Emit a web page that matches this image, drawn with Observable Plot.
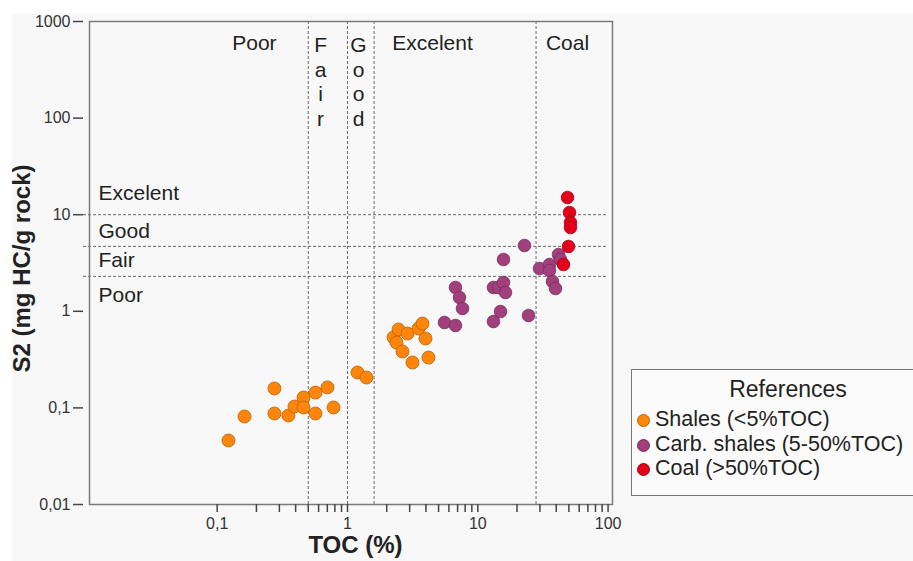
<!DOCTYPE html>
<html>
<head>
<meta charset="utf-8">
<script src="https://cdn.jsdelivr.net/npm/d3@7"></script>
<script src="https://cdn.jsdelivr.net/npm/@observablehq/plot@0.6"></script>
<style>
  html, body { margin: 0; padding: 0; background: #ffffff; }
  body { width: 913px; height: 561px; overflow: hidden; position: relative; font-family: "Liberation Sans", Arial, sans-serif; }
  #bg { position: absolute; left: 12px; top: 13px; right: 0; bottom: 0; background: #f8f8f8; }
  #chart { position: absolute; left: 0; top: 0; }
  #legend { position: absolute; left: 631px; top: 369px; width: 320px; height: 127px; border: 1.5px solid #777; background: #fbfbfb; box-sizing: border-box; color: #222; }
  #legend .title { position: absolute; left: 0; width: 312px; top: 6px; text-align: center; font-size: 23px; }
  #legend .item { position: absolute; left: 5px; font-size: 21.5px; white-space: nowrap; line-height: 24px; }
  #legend .sw { display: inline-block; width: 13px; height: 13px; border-radius: 50%; margin-right: 5px; vertical-align: -1px; box-sizing: border-box; }
</style>
</head>
<body>
<div id="bg"></div>
<div id="chart"></div>
<div id="legend"></div>
<script>
// ---- data ----
const seriesNames = ["Shales (<5%TOC)", "Carb. shales (5-50%TOC)", "Coal (>50%TOC)"];
const seriesFill = ["#ff860a", "#a1407c", "#e3001b"];
const seriesStroke = ["#b8620a", "#7a2b5c", "#a8000f"];

const shalesTOC = [0.122, 0.162, 0.275, 0.275, 0.352, 0.392, 0.460, 0.460, 0.568, 0.568, 0.702, 0.781, 1.193, 1.399, 2.255, 2.463, 2.377, 2.887, 2.643, 3.154, 3.507, 3.764, 3.968, 4.183];
const shalesS2  = [0.046, 0.0815, 0.159, 0.0875, 0.0834, 0.1034, 0.128, 0.101, 0.144, 0.0875, 0.163, 0.101, 0.2325, 0.2064, 0.536, 0.648, 0.475, 0.589, 0.3835, 0.295, 0.664, 0.747, 0.523, 0.332];

const carbTOC = [5.55, 6.74, 6.74, 7.24, 7.63, 13.19, 14.94, 24.5, 13.19, 14.42, 15.75, 16.31, 15.75, 22.82, 29.76, 35.5, 35.5, 41.63, 43.13, 37.44, 39.47];
const carbS2  = [0.766, 0.713, 1.764, 1.389, 1.069, 0.784, 0.995, 0.905, 1.764, 1.764, 1.987, 1.565, 3.44, 4.80, 2.774, 3.051, 2.645, 3.873, 3.44, 2.034, 1.722];

const coalTOC = [48.8, 50.55, 51.45, 51.45, 49.66, 45.47];
const coalS2  = [15.07, 10.54, 8.30, 7.37, 4.69, 3.05];

const tocLimits = [0.5, 1, 1.6, 28];
const s2Limits = [10, 4.7, 2.3];

const xMajorTicks = [0.1, 1, 10, 100];
const xMinorTicks = [0.2, 0.3, 0.4, 0.5, 0.6, 0.7, 0.8, 0.9, 2, 3, 4, 5, 6, 7, 8, 9, 20, 30, 40, 50, 60, 70, 80, 90];
const yTicks = [0.01, 0.1, 1, 10, 100, 1000];

const topZoneLabels = ["Poor", "Excelent", "Coal"];
const topZoneTOC = [0.193, 4.49, 48.8];
const topZoneS2 = 592;
const columnZoneLabels = ["F\na\ni\nr", "G\no\no\nd"];
const columnZoneTOC = [0.621, 1.215];
const columnZoneS2 = 242;
const sideZoneLabels = ["Excelent", "Good", "Fair", "Poor"];
const sideZoneS2 = [16.58, 6.70, 3.36, 1.458];
const sideZoneTOC = 0.01228;

const xLabel = "TOC (%)";
const yLabel = "S2 (mg HC/g rock)";
const legendTitle = "References";

// ---- build ----
const toRows = (xs, ys) => xs.map((x, i) => ({toc: x, s2: ys[i]}));
const shales = toRows(shalesTOC, shalesS2);
const carb = toRows(carbTOC, carbS2);
const coal = toRows(coalTOC, coalS2);
const fmt = d => String(d).replace(".", ",");

const chart = Plot.plot({
  width: 913,
  height: 561,
  marginLeft: 89,
  marginRight: 301,
  marginTop: 21,
  marginBottom: 57,
  x: {type: "log", domain: [0.01047, 108.1]},
  y: {type: "log", domain: [0.01, 1000]},
  style: {background: "transparent", fontFamily: "'Liberation Sans', Arial, sans-serif", color: "#333", overflow: "visible"},
  marks: [
    Plot.ruleX(tocLimits, {stroke: "#6a6a6a", strokeDasharray: "3,2", strokeWidth: 1}),
    Plot.ruleY(s2Limits, {x1: 0.00942, x2: 98.9, stroke: "#6a6a6a", strokeDasharray: "3,2", strokeWidth: 1}),
    Plot.frame({stroke: "#7a7a7a", strokeWidth: 1.5}),
    Plot.axisX({ticks: xMajorTicks, tickFormat: fmt, tickSize: 8, tickPadding: 5, fontSize: 16, label: null, stroke: "#444", strokeWidth: 1.5}),
    Plot.axisX({ticks: xMinorTicks, tickFormat: () => "", tickSize: 8, label: null, stroke: "#444", strokeWidth: 1.5}),
    Plot.axisY({ticks: yTicks, tickFormat: fmt, tickSize: 10, dx: -6, tickPadding: 3, fontSize: 16, label: null, stroke: "#444", strokeWidth: 1.5}),
    Plot.text([xLabel], {frameAnchor: "bottom", textAnchor: "middle", dy: 48, dx: 4.5, fontSize: 24, fontWeight: "bold", fill: "#222"}),
    Plot.text([yLabel], {frameAnchor: "left", textAnchor: "middle", dx: -67, dy: 5.5, rotate: -90, fontSize: 24, fontWeight: "bold", fill: "#222"}),
    Plot.text(topZoneLabels, {x: (d, i) => topZoneTOC[i], y: () => topZoneS2, text: d => d, fontSize: 21, fill: "#222"}),
    Plot.text(columnZoneLabels, {x: (d, i) => columnZoneTOC[i], y: () => columnZoneS2, text: d => d, fontSize: 21, lineHeight: 1.18, fill: "#222"}),
    Plot.text(sideZoneLabels, {x: () => sideZoneTOC, y: (d, i) => sideZoneS2[i], text: d => d, textAnchor: "start", fontSize: 21, fill: "#222"}),
    Plot.dot(shales, {x: "toc", y: "s2", r: 6.5, fill: seriesFill[0], stroke: seriesStroke[0], strokeWidth: 0.8}),
    Plot.dot(carb, {x: "toc", y: "s2", r: 6.3, fill: seriesFill[1], stroke: seriesStroke[1], strokeWidth: 0.8}),
    Plot.dot(coal, {x: "toc", y: "s2", r: 6.3, fill: seriesFill[2], stroke: seriesStroke[2], strokeWidth: 0.8})
  ]
});
document.getElementById("chart").appendChild(chart);

// legend
const legend = document.getElementById("legend");
const t = document.createElement("div");
t.className = "title";
t.textContent = legendTitle;
legend.appendChild(t);
seriesNames.forEach((name, i) => {
  const it = document.createElement("div");
  it.className = "item";
  it.style.top = (37 + i * 24.5) + "px";
  const sw = document.createElement("span");
  sw.className = "sw";
  sw.style.background = seriesFill[i];
  sw.style.border = "1px solid " + seriesStroke[i];
  it.appendChild(sw);
  it.appendChild(document.createTextNode(name));
  legend.appendChild(it);
});
</script>
</body>
</html>
